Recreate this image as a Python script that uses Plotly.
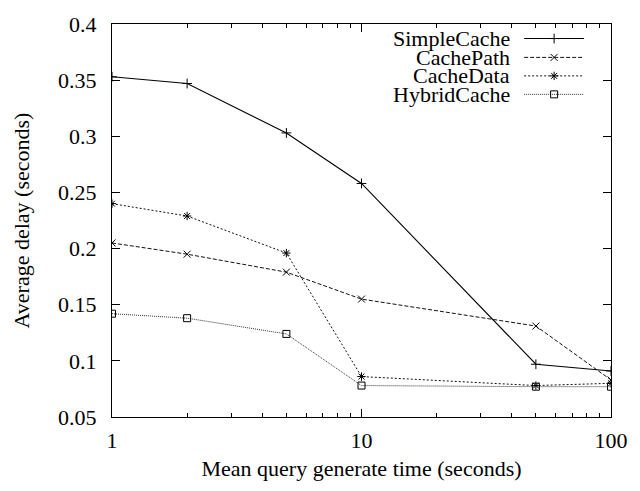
import plotly.graph_objects as go

x_vals = [1, 2, 5, 10, 50, 100]
simple_cache = [0.353, 0.347, 0.303, 0.258, 0.097, 0.091]
cache_path = [0.205, 0.195, 0.179, 0.155, 0.131, 0.083]
cache_data = [0.240, 0.229, 0.196, 0.086, 0.078, 0.080]
hybrid_cache = [0.142, 0.138, 0.124, 0.078, 0.077, 0.077]

series_names = ["SimpleCache", "CachePath", "CacheData", "HybridCache"]
series_vals = [simple_cache, cache_path, cache_data, hybrid_cache]
styles = [
    dict(dash="solid", symbol="cross-thin-open", color="#000000", width=1.1),
    dict(dash="4px,2px", symbol="x-thin-open", color="#111111", width=1.0),
    dict(dash="2px,2px", symbol="asterisk-open", color="#111111", width=1.0),
    dict(dash="1px,1px", symbol="square-open", color="#333333", width=1.0),
]

FONT = "Liberation Serif, Times New Roman, serif"
FS = 22
fig = go.Figure()

for name, vals, st in zip(series_names, series_vals, styles):
    fig.add_trace(go.Scatter(
        x=x_vals, y=vals, mode="lines+markers", name=name,
        line=dict(color=st["color"], width=st["width"], dash=st["dash"]),
        marker=dict(symbol=st["symbol"], size=7, color="#000000",
                    line=dict(color="#000000", width=1)),
        showlegend=False,
    ))

# custom gnuplot-style legend (text on the left, sample on the right)
leg_rows = [0.963, 0.915, 0.868, 0.821]
for name, st, yy in zip(series_names, styles, leg_rows):
    fig.add_trace(go.Scatter(
        x=[0.826, 0.946], y=[yy, yy], xaxis="x2", yaxis="y2", mode="lines",
        line=dict(color=st["color"], width=st["width"], dash=st["dash"]),
        showlegend=False, hoverinfo="skip",
    ))
    fig.add_trace(go.Scatter(
        x=[0.886], y=[yy], xaxis="x2", yaxis="y2", mode="markers",
        marker=dict(symbol=st["symbol"], size=7, color="#000000",
                    line=dict(color="#000000", width=1)),
        showlegend=False, hoverinfo="skip",
    ))
    fig.add_annotation(x=0.800, y=yy, xref="paper", yref="paper",
                       text=name, showarrow=False, xanchor="right", yanchor="middle",
                       borderpad=0,
                       font=dict(family=FONT, size=FS, color="black"))

fig.update_layout(
    width=640, height=491,
    margin=dict(l=112, r=28, t=15, b=74),
    paper_bgcolor="white", plot_bgcolor="white",
    font=dict(family=FONT, size=FS, color="black"),
    xaxis=dict(
        type="log", range=[0, 2], tickvals=[1, 10, 100], ticktext=["1", "10", "100"],
        ticks="inside", ticklen=8, tickcolor="black", tickwidth=1,
        showline=True, linecolor="black", linewidth=1, mirror="allticks",
        showgrid=False, zeroline=False, ticklabelstandoff=4,
        minor=dict(ticks="inside", ticklen=4, tickcolor="black", dtick="D1", showgrid=False),
        title=dict(text="Mean query generate time (seconds)", standoff=8,
                   font=dict(family=FONT, size=FS)),
    ),
    yaxis=dict(
        range=[0.05, 0.4], dtick=0.05, tick0=0.05,
        tickformat="~g",
        ticks="inside", ticklen=8, tickcolor="black", tickwidth=1,
        showline=True, linecolor="black", linewidth=1, mirror="allticks",
        showgrid=False, zeroline=False, ticklabelstandoff=10,
        title=dict(text="Average delay (seconds)", standoff=22,
                   font=dict(family=FONT, size=FS)),
    ),
    xaxis2=dict(range=[0, 1], overlaying="x", visible=False, anchor="y2"),
    yaxis2=dict(range=[0, 1], overlaying="y", visible=False, anchor="x2"),
)

fig.write_html("out.html")
